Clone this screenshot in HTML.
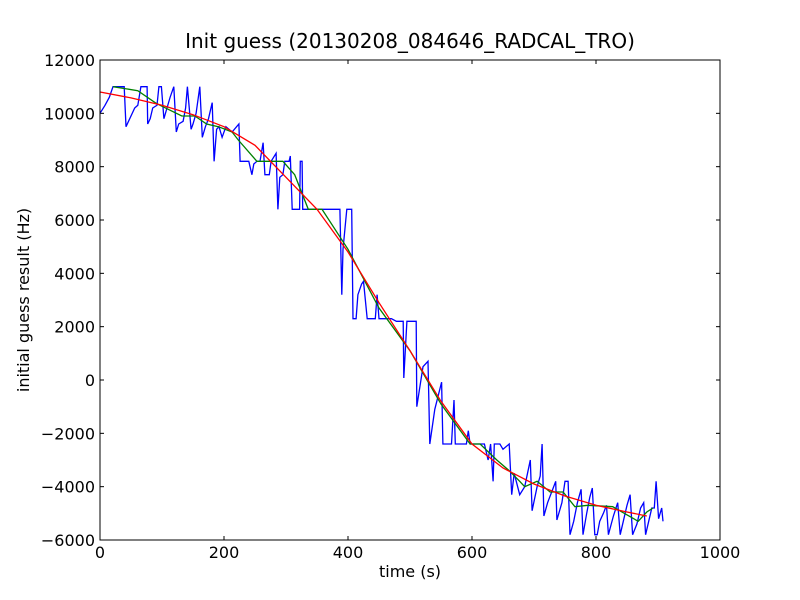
<!DOCTYPE html>
<html><head><meta charset="utf-8"><style>
body{margin:0;background:#fff;}
svg{display:block;font-family:"DejaVu Sans","Liberation Sans",sans-serif;}
</style></head><body>
<svg id="chart" width="800" height="600">
<rect x="0" y="0" width="800" height="600" fill="#fff"/>
<text x="410" y="48" font-size="20" text-anchor="middle">Init guess (20130208_084646_RADCAL_TRO)</text>
<text x="410" y="577" font-size="16" text-anchor="middle">time (s)</text>
<text x="29" y="300" font-size="16" text-anchor="middle" transform="rotate(-90 29 300)">initial guess result (Hz)</text>
<g id="ticks"></g>
<g id="series"></g>
<rect x="100" y="60" width="620" height="480" fill="none" stroke="#000" stroke-width="1"/>
</svg>
<script>
const xTicks=[0,200,400,600,800,1000];
const yTicks=[-6000,-4000,-2000,0,2000,4000,6000,8000,10000,12000];
const blueX=[0,8,15,21,39,42,56,61,66,76,77,81,85,92,95,99,103,108,113,119,123,127,134,138,141,147,150,155,161,165,170,175,181,184,188,192,197,203,213,224,226,240,245,248,253,258,263,266,273,276,284,287,290,295,298,305,307,310,315,319,322,323,326,327,387,390,392,398,406,408,413,416,422,425,431,444,447,450,470,478,489,490,495,510,511,521,529,532,540,551,553,567,571,573,591,594,597,620,626,630,634,636,645,650,660,664,668,677,685,694,697,705,710,713,716,722,731,735,737,745,750,755,758,764,770,776,779,785,790,794,798,802,806,812,817,820,828,835,839,845,850,855,859,866,872,877,880,885,890,894,897,901,906,908];
const blueY=[10000,10300,10600,11000,11000,9500,10200,10300,11000,11000,9600,9800,10200,10300,11000,11000,9800,10200,10600,11000,9300,9600,9700,10200,11000,9400,9600,10000,11000,9100,9500,9800,10400,8200,9400,9500,9100,9500,9300,9600,8200,8200,7700,8100,8200,8200,8900,7700,7700,8200,8500,6400,7600,7700,8200,8200,8400,6400,6400,6400,6400,8200,8200,6400,6400,3200,4900,6400,6400,2300,2300,3200,3600,3700,2300,2300,3200,2300,2300,2200,2200,75,2200,2200,-1000,500,700,-2400,-1100,-80,-2400,-2400,-750,-2400,-2400,-1900,-2400,-2400,-3000,-2400,-3800,-2400,-2400,-2600,-2400,-4300,-3500,-4300,-4000,-3000,-4900,-4000,-3600,-2400,-5100,-4600,-4050,-3800,-5250,-4600,-3800,-3800,-5800,-5300,-4600,-4100,-5800,-5000,-4400,-4050,-5800,-5800,-5300,-5000,-4700,-5800,-5100,-4600,-5800,-5200,-4700,-4300,-5800,-5400,-4800,-4600,-5800,-5300,-4800,-4800,-3800,-5200,-4800,-5300];
const greenX=[21,61,89,97,132,153,172,191,213,223,253,295,314,336,358,400,450,500,550,597,613,640,660,677,685,705,726,747,766,787,827,868,882,892];
const greenY=[11000,10850,10400,10300,9900,9900,9600,9500,9300,9000,8200,8200,7700,6400,6400,4900,2700,1100,-900,-2400,-2400,-3000,-3400,-3800,-4000,-3800,-4200,-4200,-4750,-4700,-4750,-5300,-4950,-4800];
const redX=[0,50,100,150,200,250,300,350,400,450,500,550,600,650,700,750,800,850,882];
const redY=[10800,10580,10300,9950,9500,8800,7600,6400,4800,2900,1100,-800,-2400,-3300,-3900,-4350,-4700,-4950,-5100];
const X0=100,X1=720,Y0=540,Y1=60;
function sx(v){return X0+(v-0)/(1000-0)*(X1-X0);}
function sy(v){return Y0-(v-(-6000))/(12000-(-6000))*(Y0-Y1);}
const NS='http://www.w3.org/2000/svg';
const tg=document.getElementById('ticks');
function ln(x1,y1,x2,y2){const l=document.createElementNS(NS,'line');l.setAttribute('x1',x1);l.setAttribute('y1',y1);l.setAttribute('x2',x2);l.setAttribute('y2',y2);l.setAttribute('stroke','#000');


tg.appendChild(l);}
xTicks.forEach(v=>{const x=sx(v);ln(x,540,x,536);ln(x,60,x,64);
const t=document.createElementNS(NS,'text');t.setAttribute('x',x);t.setAttribute('y',558);t.setAttribute('font-size','16');t.setAttribute('text-anchor','middle');t.textContent=v;


tg.appendChild(t);});
yTicks.forEach(v=>{const y=sy(v);ln(100,y,104,y);ln(720,y,716,y);
const t=document.createElementNS(NS,'text');t.setAttribute('x',95);t.setAttribute('y',y+6);t.setAttribute('font-size','16');t.setAttribute('text-anchor','end');t.textContent=(v<0?'\u2212'+(-v):v);


tg.appendChild(t);});
const sg=document.getElementById('series');
function line(xs,ys,c,name){const p=document.createElementNS(NS,'polyline');p.setAttribute('points',xs.map((x,i)=>sx(x).toFixed(1)+','+sy(ys[i]).toFixed(1)).join(' '));p.setAttribute('fill','none');p.setAttribute('stroke',c);p.setAttribute('stroke-width','1.3');


sg.appendChild(p);}
line(blueX,blueY,'#0000ff','raw-guess-line');
line(greenX,greenY,'#008000','smoothed-line');
line(redX,redY,'#ff0000','fit-line');
</script>
</body></html>
